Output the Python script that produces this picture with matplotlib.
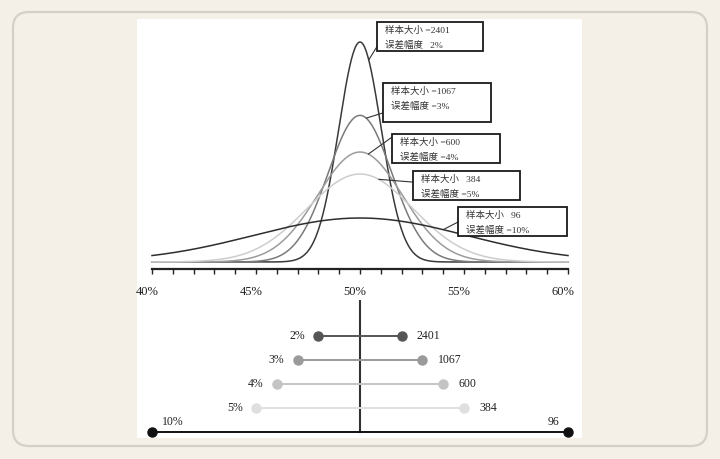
import numpy as np
import matplotlib
matplotlib.use("Agg")
import matplotlib.pyplot as plt
from matplotlib.patches import Rectangle, FancyBboxPatch
from matplotlib.ticker import MultipleLocator, FuncFormatter
from matplotlib.transforms import ScaledTranslation

# data
sample_sizes = [2401, 1067, 600, 384, 96]
moe = [2, 3, 4, 5, 10]          # margin of error, percent
center = 50                     # percent
curve_colors = ["#3a3a3a", "#7a7a7a", "#9c9c9c", "#cdcdcd", "#2e2e2e"]
dot_colors = ["#555555", "#9a9a9a", "#c4c4c4", "#dfdfdf", "#111111"]
box_line1 = ["样本大小 =2401", "样本大小 =1067", "样本大小 =600", "样本大小   384", "样本大小   96"]
box_line2 = ["误差幅度   2%", "误差幅度 =3%", "误差幅度 =4%", "误差幅度 =5%", "误差幅度 =10%"]

# annotation boxes (x0, x1 in percent, y0, y1 in density units) and where the leader hits the curve
boxes = [(50.82, 55.91, 0.375, 0.4266),
         (51.11, 56.30, 0.249, 0.318),
         (51.54, 56.73, 0.176, 0.2275),
         (52.55, 57.69, 0.1102, 0.1617),
         (54.71, 59.95, 0.0462, 0.0978)]
leader_from = [(50.82, 0.383), (51.11, 0.265), (51.54, 0.222), (52.55, 0.142), (54.71, 0.071)]
leader_to_x = [50.42, 50.3, 50.4, 50.9, 54.0]

W, H = 720, 460
BG = "#f4f0e7"
PX = 1 / 562.6                  # one pixel in density units on the top panel
serif = ["Liberation Serif", "DejaVu Serif"]
cjk = ["Liberation Serif", "Noto Sans CJK SC", "DejaVu Sans"]

fig = plt.figure(figsize=(W / 100, H / 100), dpi=100, facecolor=BG)

# rounded frame and white panel (behind the axes)
frame = FancyBboxPatch((13, H - 447), 694, 434, boxstyle="round,pad=0,rounding_size=16",
                       transform=None, facecolor=BG, edgecolor="#d3d0c8", lw=1.6, zorder=-2)
fig.patches.append(frame)
fig.patches.append(Rectangle((137 / W, 21 / H), 445 / W, 419 / H, transform=fig.transFigure,
                             facecolor="white", edgecolor="none", zorder=-1))

xlim = (39.279, 60.673)


def pdf(x, sd):
    return np.exp(-0.5 * ((x - center) / sd) ** 2) / (sd * np.sqrt(2 * np.pi))


# top: sampling distributions
ax = fig.add_axes([137 / W, 190 / H, 445 / W, 250 / H])
ax.patch.set_alpha(0)
x = np.linspace(40, 60, 800)
for m, c in zip(moe, curve_colors):
    ax.plot(x, pdf(x, m / 1.96), color=c, lw=1.1)

ax.set_xlim(*xlim)
ax.set_ylim(-0.01244, 0.4319)
for s in ["left", "right", "top"]:
    ax.spines[s].set_visible(False)
ax.spines["bottom"].set_bounds(40, 60)
ax.spines["bottom"].set_linewidth(1.6)
ax.spines["bottom"].set_color("#222222")
ax.set_yticks([])
ax.xaxis.set_major_locator(MultipleLocator(5))
ax.xaxis.set_minor_locator(MultipleLocator(1))
ax.xaxis.set_major_formatter(FuncFormatter(lambda v, p: f"{v:.0f}%"))
ax.tick_params(axis="x", which="both", direction="out", length=3.5, width=1, color="#222222")
ax.tick_params(axis="x", which="major", pad=8, labelsize=9, labelcolor="#222222")
for lab in ax.get_xticklabels():
    lab.set_fontfamily(serif)
    lab.set_transform(lab.get_transform() + ScaledTranslation(-5 / 100, 0, fig.dpi_scale_trans))

for i, (x0, x1, y0, y1) in enumerate(boxes):
    ax.add_patch(Rectangle((x0, y0), x1 - x0, y1 - y0, facecolor="white",
                           edgecolor="#1a1a1a", lw=1.3, zorder=5))
    ax.text(x0 + 0.38, y1 - 7 * PX, box_line1[i], family=cjk, fontsize=6.8,
            color="#333333", va="center", ha="left", zorder=6)
    ax.text(x0 + 0.38, y1 - 22.5 * PX, box_line2[i], family=cjk, fontsize=6.8,
            color="#333333", va="center", ha="left", zorder=6)
    tx = leader_to_x[i]
    ax.annotate("", xy=(tx, pdf(tx, moe[i] / 1.96)), xytext=leader_from[i],
                arrowprops=dict(arrowstyle="-", color="#333333", lw=0.8,
                                shrinkA=0, shrinkB=0), zorder=4)

# bottom: margin of error ranges
bx = fig.add_axes([137 / W, 21 / H, 445 / W, 139 / H])
bx.patch.set_alpha(0)
bx.set_xlim(*xlim)
bx.set_ylim(4.25, -1.54)
bx.axis("off")
rows = np.arange(len(moe))
bx.plot([center, center], [-1.46, rows[-1]], color="#333333", lw=1.5, zorder=1)
for i, (m, n, c) in enumerate(zip(moe, sample_sizes, dot_colors)):
    lo, hi = center - m, center + m
    bx.plot([lo, hi], [i, i], color=c, lw=1.4, zorder=2)
    bx.plot([lo, hi], [i, i], "o", color=c, ms=6.5, zorder=3)
    if i < len(moe) - 1:
        bx.annotate(f"{m}%", (lo, i), xytext=(-9.5, 0.5), textcoords="offset points",
                    ha="right", va="center", fontsize=8.5, family=serif, color="#222222")
        bx.annotate(f"{n}", (hi, i), xytext=(11, 0.5), textcoords="offset points",
                    ha="left", va="center", fontsize=8.5, family=serif, color="#222222")
    else:
        bx.annotate(f"{m}%", (lo, i), xytext=(7, 8), textcoords="offset points",
                    ha="left", va="center", fontsize=8.5, family=serif, color="#222222")
        bx.annotate(f"{n}", (hi, i), xytext=(-6.5, 8), textcoords="offset points",
                    ha="right", va="center", fontsize=8.5, family=serif, color="#222222")

fig.savefig("out.png", dpi=100, facecolor=BG)
